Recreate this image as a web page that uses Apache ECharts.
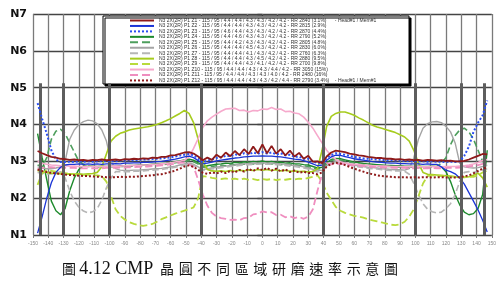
<!DOCTYPE html>
<html><head><meta charset="utf-8">
<script src="https://cdn.jsdelivr.net/npm/echarts/dist/echarts.min.js"></script>
<style>html,body{margin:0;padding:0;background:#fff}#c{width:499px;height:282px}</style>
</head><body><div id="c"></div>
<script>
// radial position on wafer (mm)
const X = [-147,-144,-141,-138,-135,-132,-129,-126,-123,-120,
 -117,-114,-111,-108,-105,-102,-99,-96,-93,-90,
 -87,-84,-81,-78,-75,-72,-69,-66,-63,-60,
 -57,-54,-51,-48,-45,-42,-39,-36,-33,-30,
 -27,-24,-21,-18,-15,-12,-9,-6,-3,0,
 3,6,9,12,15,18,21,24,27,30,
 33,36,39,42,45,48,51,54,57,60,
 63,66,69,72,75,78,81,84,87,90,
 93,96,99,102,105,108,111,114,117,120,
 123,126,129,132,135,138,141,144,147];

const DR_TOP = [3.28,3.22,3.17,3.12,3.10,3.07,3.06,3.04,3.05,3.03,
 3.04,3.02,3.04,3.03,3.05,3.03,3.04,3.05,3.03,3.06,
 3.05,3.07,3.06,3.08,3.07,3.10,3.09,3.12,3.12,3.16,
 3.17,3.20,3.24,3.25,3.21,3.13,3.03,3.10,3.04,3.18,
 3.10,3.24,3.14,3.28,3.17,3.33,3.20,3.40,3.22,3.46,
 3.22,3.42,3.21,3.33,3.16,3.29,3.13,3.23,3.07,3.15,
 2.99,3.00,2.95,3.13,3.24,3.29,3.27,3.25,3.21,3.19,
 3.16,3.15,3.12,3.11,3.09,3.09,3.07,3.07,3.05,3.06,
 3.04,3.05,3.03,3.04,3.02,3.04,3.03,3.02,3.03,3.01,
 3.02,3.00,3.00,3.01,3.05,3.10,3.15,3.20,3.19];

const BLUE = [1.05,1.50,2.00,2.42,2.70,2.84,2.90,2.92,2.92,2.93,
 2.92,2.93,2.92,2.93,2.92,2.93,2.93,2.94,2.93,2.95,
 2.95,2.96,2.96,2.97,2.97,2.98,2.99,3.00,3.02,3.04,
 3.06,3.09,3.12,3.14,3.10,3.02,2.93,2.95,2.98,3.01,
 3.03,3.05,3.07,3.09,3.10,3.12,3.13,3.14,3.14,3.15,
 3.14,3.14,3.13,3.12,3.10,3.08,3.06,3.05,3.02,2.98,
 2.93,2.88,2.90,3.03,3.12,3.17,3.16,3.13,3.10,3.07,
 3.05,3.03,3.01,2.99,2.98,2.97,2.96,2.95,2.95,2.94,
 2.94,2.93,2.93,2.93,2.92,2.93,2.92,2.92,2.85,2.76,
 2.72,2.66,2.55,2.38,2.15,1.92,1.68,1.40,1.08];

const BLUE_DOT = [4.58,4.15,3.75,3.30,3.05,2.98,2.98,2.99,2.98,3.00,
 2.99,3.00,2.99,3.00,3.01,3.00,3.01,3.00,3.02,3.02,
 3.03,3.03,3.04,3.05,3.05,3.06,3.07,3.08,3.09,3.11,
 3.13,3.16,3.18,3.20,3.16,3.08,2.97,3.02,3.05,3.09,
 3.11,3.15,3.14,3.19,3.17,3.22,3.19,3.24,3.20,3.25,
 3.21,3.24,3.19,3.22,3.16,3.18,3.12,3.13,3.07,3.07,
 3.00,2.95,2.97,3.08,3.17,3.22,3.20,3.18,3.15,3.12,
 3.10,3.08,3.07,3.06,3.05,3.04,3.03,3.03,3.02,3.02,
 3.01,3.01,3.00,3.00,3.00,2.99,3.00,2.99,2.99,2.98,
 2.99,2.98,3.00,3.15,3.40,3.80,4.05,4.25,4.65];

const GREEN = [3.75,3.10,2.50,1.92,1.66,1.55,1.72,2.20,2.55,2.78,
 2.88,2.86,2.87,2.86,2.87,2.86,2.87,2.87,2.88,2.88,
 2.89,2.89,2.90,2.90,2.91,2.92,2.93,2.94,2.95,2.97,
 2.99,3.01,3.04,3.06,3.03,2.96,2.87,2.88,2.90,2.92,
 2.93,2.95,2.94,2.97,2.96,2.99,2.97,3.00,2.98,3.01,
 2.98,3.00,2.97,2.98,2.95,2.96,2.93,2.93,2.91,2.90,
 2.86,2.82,2.84,2.96,3.05,3.08,3.07,3.04,3.01,2.98,
 2.96,2.94,2.93,2.92,2.91,2.90,2.89,2.89,2.88,2.88,
 2.87,2.87,2.86,2.87,2.86,2.86,2.87,2.86,2.85,2.72,
 2.45,2.10,1.82,1.62,1.55,1.58,1.72,2.10,3.30];

const GREEN_DASH = [2.90,2.85,3.10,3.60,3.82,3.87,3.75,3.50,3.25,3.00,
 2.92,2.88,2.86,2.85,2.86,2.85,2.86,2.85,2.86,2.86,
 2.86,2.87,2.87,2.88,2.88,2.89,2.90,2.91,2.92,2.94,
 2.96,2.98,3.00,3.02,2.99,2.93,2.84,2.85,2.86,2.88,
 2.90,2.88,2.92,2.90,2.94,2.92,2.95,2.93,2.96,2.94,
 2.96,2.93,2.95,2.91,2.93,2.90,2.91,2.88,2.88,2.86,
 2.83,2.79,2.81,2.93,3.02,3.05,3.04,3.01,2.98,2.95,
 2.93,2.91,2.90,2.89,2.88,2.87,2.86,2.86,2.85,2.85,
 2.84,2.84,2.84,2.83,2.84,2.83,2.84,2.86,2.95,3.10,
 3.45,3.70,3.85,3.90,3.80,3.60,3.30,3.00,2.90];

const GRAY = [2.85,2.82,2.80,2.80,2.82,2.85,3.00,3.60,3.85,4.00,
 4.08,4.12,4.10,4.02,3.85,3.55,3.00,2.80,2.76,2.75,
 2.75,2.76,2.76,2.77,2.78,2.79,2.80,2.81,2.83,2.85,
 2.87,2.90,2.93,2.95,2.92,2.85,2.78,2.80,2.82,2.84,
 2.86,2.87,2.89,2.90,2.92,2.93,2.94,2.95,2.95,2.96,
 2.95,2.95,2.94,2.93,2.92,2.90,2.89,2.87,2.85,2.82,
 2.78,2.74,2.76,2.88,2.96,3.00,2.99,2.96,2.93,2.90,
 2.88,2.86,2.84,2.83,2.82,2.80,2.79,2.78,2.77,2.77,
 2.76,2.80,3.10,3.60,3.90,4.02,4.07,4.08,4.05,3.95,
 3.80,3.50,2.95,2.85,2.83,2.82,2.83,2.86,2.90];

const GRAY_DASH = [2.70,2.68,2.66,2.66,2.68,2.72,2.55,2.20,1.92,1.75,
 1.65,1.60,1.63,1.72,1.95,2.28,2.55,2.72,2.72,2.72,
 2.72,2.73,2.73,2.74,2.75,2.76,2.77,2.78,2.80,2.82,
 2.84,2.87,2.90,2.92,2.89,2.82,2.75,2.77,2.79,2.81,
 2.83,2.84,2.86,2.87,2.89,2.90,2.91,2.92,2.92,2.93,
 2.92,2.92,2.91,2.90,2.89,2.87,2.86,2.84,2.82,2.79,
 2.75,2.71,2.73,2.85,2.93,2.97,2.96,2.93,2.90,2.87,
 2.85,2.83,2.81,2.80,2.79,2.77,2.76,2.75,2.74,2.74,
 2.73,2.65,2.40,2.10,1.85,1.70,1.63,1.60,1.62,1.72,
 1.85,2.10,2.45,2.70,2.72,2.70,2.72,2.76,2.80];

const LIME = [2.75,2.72,2.70,2.68,2.67,2.66,2.65,2.66,2.65,2.66,
 2.65,2.66,2.67,2.70,2.85,3.20,3.55,3.68,3.76,3.80,
 3.85,3.88,3.90,3.92,3.94,3.97,4.00,4.05,4.10,4.16,
 4.23,4.30,4.38,4.30,4.05,3.60,3.00,2.78,2.74,2.73,
 2.74,2.72,2.75,2.73,2.76,2.74,2.77,2.75,2.78,2.76,
 2.78,2.75,2.77,2.74,2.76,2.73,2.74,2.72,2.73,2.71,
 2.72,2.80,3.30,3.95,4.22,4.30,4.34,4.34,4.30,4.25,
 4.18,4.12,4.05,3.98,3.93,3.90,3.86,3.82,3.78,3.72,
 3.66,3.55,3.30,2.95,2.70,2.65,2.64,2.63,2.62,2.61,
 2.60,2.58,2.56,2.56,2.58,2.62,2.68,2.55,2.30];

const LIME_DASH = [2.36,2.68,2.76,2.74,2.72,2.70,2.68,2.66,2.65,2.64,
 2.63,2.63,2.62,2.62,2.60,2.45,2.05,1.70,1.52,1.42,
 1.35,1.30,1.27,1.25,1.27,1.30,1.36,1.43,1.48,1.53,
 1.58,1.62,1.66,1.70,1.75,2.00,2.60,2.58,2.55,2.53,
 2.52,2.54,2.51,2.53,2.50,2.53,2.50,2.52,2.49,2.52,
 2.50,2.52,2.49,2.51,2.50,2.52,2.51,2.53,2.52,2.55,
 2.58,2.62,2.45,2.15,1.95,1.76,1.66,1.60,1.56,1.52,
 1.50,1.47,1.43,1.40,1.37,1.34,1.31,1.28,1.27,1.29,
 1.36,1.50,1.70,2.05,2.40,2.60,2.62,2.61,2.60,2.60,
 2.59,2.58,2.57,2.57,2.58,2.58,2.62,2.70,2.75];

const PINK = [3.00,2.95,2.92,2.90,2.89,2.88,2.88,2.87,2.87,2.86,
 2.86,2.86,2.86,2.86,2.86,2.86,2.87,2.87,2.87,2.88,
 2.88,2.89,2.89,2.90,2.90,2.91,2.92,2.93,2.94,2.96,
 2.98,3.00,3.03,3.12,3.35,3.62,3.92,4.10,4.20,4.28,
 4.36,4.42,4.43,4.44,4.38,4.39,4.34,4.38,4.37,4.42,
 4.41,4.46,4.41,4.42,4.35,4.36,4.31,4.29,4.20,4.06,
 3.90,3.70,3.50,3.30,3.15,3.05,2.98,2.95,2.93,2.92,
 2.91,2.90,2.89,2.88,2.88,2.87,2.87,2.86,2.86,2.86,
 2.85,2.86,2.85,2.86,2.85,2.85,2.86,2.85,2.85,2.86,
 2.86,2.86,2.87,2.88,2.90,2.93,2.97,3.02,3.05];

const PINK_DASH = [2.78,2.82,2.84,2.84,2.83,2.83,2.82,2.82,2.82,2.81,
 2.81,2.81,2.81,2.81,2.81,2.82,2.82,2.82,2.83,2.83,
 2.84,2.84,2.85,2.85,2.86,2.87,2.88,2.89,2.90,2.92,
 2.94,2.96,2.97,2.92,2.85,2.50,2.10,1.80,1.60,1.50,
 1.46,1.44,1.41,1.42,1.40,1.46,1.47,1.56,1.58,1.64,
 1.61,1.62,1.54,1.55,1.48,1.51,1.46,1.49,1.44,1.50,
 1.70,2.20,2.65,2.95,2.92,2.93,2.93,2.92,2.90,2.89,
 2.88,2.87,2.86,2.85,2.84,2.84,2.83,2.83,2.82,2.82,
 2.82,2.81,2.81,2.82,2.81,2.81,2.82,2.81,2.81,2.82,
 2.82,2.82,2.83,2.84,2.86,2.88,2.90,2.93,2.95];

const DR_BOT = [2.78,2.74,2.71,2.69,2.67,2.66,2.64,2.63,2.62,2.61,
 2.60,2.60,2.59,2.58,2.58,2.57,2.57,2.57,2.58,2.57,
 2.58,2.58,2.59,2.60,2.61,2.62,2.64,2.65,2.68,2.71,
 2.75,2.80,2.86,2.89,2.85,2.77,2.69,2.66,2.70,2.67,
 2.72,2.68,2.74,2.70,2.77,2.72,2.79,2.74,2.81,2.76,
 2.82,2.75,2.80,2.73,2.78,2.71,2.75,2.69,2.72,2.68,
 2.68,2.65,2.70,2.86,2.93,2.96,2.94,2.90,2.85,2.80,
 2.76,2.72,2.68,2.65,2.62,2.60,2.59,2.58,2.57,2.57,
 2.57,2.56,2.57,2.56,2.57,2.57,2.56,2.57,2.57,2.56,
 2.56,2.56,2.57,2.59,2.62,2.67,2.74,2.80,2.84];

const LABELS = [
 'N3 2X(2R) P1 Z1 - 115 / 95 / 4.4 / 4.4 / 4.3 / 4.3 / 4.2 / 4.2 - RR 2840 (3.1%)      - Head#1 / Mem#1',
 'N3 2X(2R) P1 Z2 - 115 / 95 / 4.4 / 4.4 / 4.3 / 4.3 / 4.2 / 4.2 - RR 2815 (2.9%)',
 'N3 2X(2R) P1 Z3 - 115 / 95 / 4.6 / 4.4 / 4.3 / 4.3 / 4.2 / 4.2 - RR 2870 (4.4%)',
 'N3 2X(2R) P1 Z4 - 115 / 95 / 4.4 / 4.6 / 4.3 / 4.3 / 4.2 / 4.2 - RR 2790 (5.2%)',
 'N3 2X(2R) P1 Z5 - 115 / 95 / 4.4 / 4.2 / 4.3 / 4.3 / 4.2 / 4.2 - RR 2805 (4.8%)',
 'N3 2X(2R) P1 Z6 - 115 / 95 / 4.4 / 4.4 / 4.5 / 4.3 / 4.2 / 4.2 - RR 2830 (6.0%)',
 'N3 2X(2R) P1 Z7 - 115 / 95 / 4.4 / 4.4 / 4.1 / 4.3 / 4.2 / 4.2 - RR 2760 (6.3%)',
 'N3 2X(2R) P1 Z8 - 115 / 95 / 4.4 / 4.4 / 4.3 / 4.5 / 4.2 / 4.2 - RR 2880 (9.5%)',
 'N3 2X(2R) P1 Z9 - 115 / 95 / 4.4 / 4.4 / 4.3 / 4.1 / 4.2 / 4.2 - RR 2700 (9.8%)',
 'N3 2X(2R) P1 Z10 - 115 / 95 / 4.4 / 4.4 / 4.3 / 4.3 / 4.4 / 4.2 - RR 3050 (15%)',
 'N3 2X(2R) P1 Z11 - 115 / 95 / 4.4 / 4.4 / 4.3 / 4.3 / 4.0 / 4.2 - RR 2480 (16%)',
 'N3 2X(2R) P1 Z12 - 115 / 95 / 4.4 / 4.4 / 4.3 / 4.3 / 4.2 / 4.4 - RR 2790 (3.4%)    - Head#1 / Mem#1'
];
const VALUES = [DR_TOP, BLUE, BLUE_DOT, GREEN, GREEN_DASH, GRAY, GRAY_DASH, LIME, LIME_DASH, PINK, PINK_DASH, DR_BOT];
const COLORS = ['#8e1a1a','#1a34d6','#2b4ff0','#1d8a2c','#4d9e5c','#a4a4a4','#b6b6b6','#a6cc1e','#b9da3c','#f6a9cc','#ef8ebf','#8e1a1a'];
const DASH = ['solid','solid','dotted','solid','dashed','solid','dashed','solid','dashed','solid','dashed','dotted'];
const WIDTHS = [1.8,1.3,2,1.4,1.6,1.4,1.6,1.6,1.8,1.6,1.8,2];
const ZS = [6,4,5,3,3,3,3,3,3,3,3,6];
const BOUNDS = [-145,-130,-100,-40,40,100,130,145];
const YLABELS = ['N1','N2','N3','N4','N5','N6','N7'];
const TITLE_FIG = '圖';
const TITLE_NUM = '4.12 CMP';
const TITLE_TXT = '晶\u2004圓\u2004不\u2004同\u2004區\u2004域\u2004研\u2004磨\u2004速\u2004率\u2004示\u2004意\u2004圖';

const chart = echarts.init(document.getElementById('c'), null, {renderer:'canvas'});
const series = VALUES.map((vals, k) => ({
  name: LABELS[k], type: 'line', symbol: 'none', z: ZS[k],
  data: X.map((x, i) => [x, vals[i]]),
  lineStyle: {color: COLORS[k], width: WIDTHS[k], type: DASH[k]},
  itemStyle: {color: COLORS[k]},
  emphasis: {disabled: true}
}));
series.unshift({
  name: 'bounds', type: 'line', data: [], z: 2, silent: true,
  markLine: {
    silent: true, symbol: 'none', label: {show: false},
    lineStyle: {color: '#5e5e5e', width: 3, type: 'solid'},
    data: BOUNDS.map(b => [{coord: [b, 1]}, {coord: [b, 5.12]}])
  }
});

chart.setOption({
  animation: false,
  grid: {left: 33, right: 7, top: 14, bottom: 47},
  xAxis: {
    type: 'value', min: -150, max: 150, interval: 10,
    axisLine: {show: false},
    axisTick: {show: true, length: 3, lineStyle: {color: '#777'}},
    axisLabel: {fontSize: 5, color: '#888', margin: 6, fontFamily: 'Liberation Sans'},
    splitLine: {show: true, lineStyle: {color: '#7a7a7a', width: 1.3}}
  },
  yAxis: {
    type: 'value', min: 1, max: 7, interval: 1,
    axisLine: {show: false},
    axisTick: {show: true, length: 5, lineStyle: {color: '#444', width: 1.4}},
    axisLabel: {formatter: v => YLABELS[v - 1], fontSize: 11, fontWeight: 'bold', color: '#111', margin: 6, fontFamily: 'DejaVu Sans'},
    splitLine: {show: true, lineStyle: {color: '#444', width: 1.4}}
  },
  legend: {
    data: LABELS, orient: 'vertical', left: 129, top: 18, padding: 0,
    itemWidth: 24, itemHeight: 3, itemGap: 0.45,
    itemStyle: {opacity: 0},
    textStyle: {fontSize: 5, lineHeight: 5, color: '#333', fontFamily: 'Liberation Sans'},
    selectedMode: false, z: 10
  },
  graphic: [
    {type: 'rect', z: 1, silent: true,
     shape: {x: 103, y: 16, width: 306, height: 68},
     style: {fill: '#fff', stroke: '#000', lineWidth: 1, shadowColor: '#000', shadowOffsetX: 2, shadowOffsetY: 2, shadowBlur: 0}},
    {type: 'text', z: 10, left: 62, top: 260,
     style: {
       text: '{a|' + TITLE_FIG + '} {b|' + TITLE_NUM + '}  {c|' + TITLE_TXT + '}',
       rich: {
         a: {fontSize: 14, fontFamily: 'Noto Sans CJK TC', fill: '#111'},
         b: {fontSize: 18, fontFamily: 'Liberation Serif', fill: '#111'},
         c: {fontSize: 14, fontFamily: 'Noto Sans CJK TC', fill: '#111'}
       }
     }}
  ],
  series: series
});
</script></body></html>
